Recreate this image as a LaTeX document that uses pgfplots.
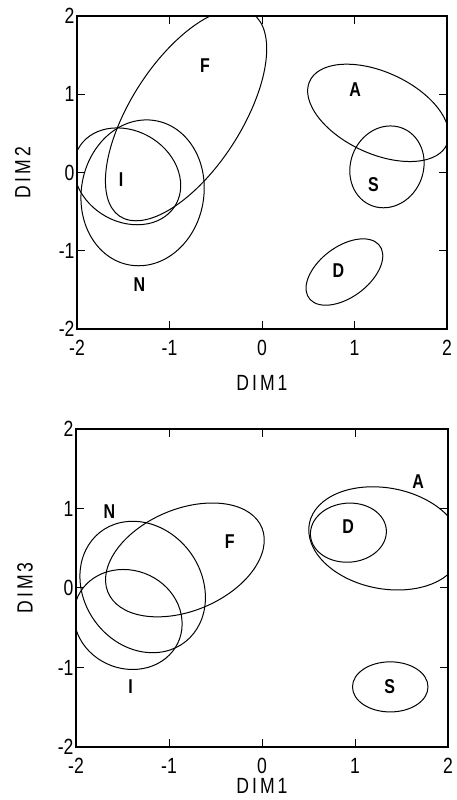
\documentclass[border=0pt]{standalone}
\usepackage{pgfplots}
\pgfplotsset{compat=1.18}
\usepackage{fontspec}
\setmainfont{Liberation Sans}[FakeStretch=0.8]
\begin{document}
\begin{tikzpicture}[x=1pt,y=1pt]
\path[use as bounding box] (0,0) rectangle (456,800);
\pgfplotsset{
  dimaxis/.style={
    scale only axis, xmin=-2, xmax=2, ymin=-2, ymax=2,
    xtick={-2,-1,0,1,2}, ytick={-2,-1,0,1,2},
    tick align=inside, major tick length=8pt,
    axis line style={line width=1.2pt},
    tick style={line width=1pt, black},
    ticklabel style={font=\fontsize{22}{24}\selectfont},
    /pgf/number format/assume math mode=true,
    xticklabel style={yshift=-8pt},
    yticklabel style={xshift=1pt},
    label style={font=\fontsize{22}{24}\selectfont},
    anchor=south west,
  },
  ell/.style={black, line width=1pt, smooth cycle, tension=1},
  lab/.style={draw=none, nodes near coords, point meta=explicit symbolic,
    every node near coord/.append style={anchor=center, font=\fontsize{20}{22}\selectfont\bfseries}},
}
% ---------------- top panel: DIM1 vs DIM2
\begin{axis}[dimaxis, at={(77pt,471pt)}, width=370pt, height=313pt,
  xlabel={D\kern3pt I\kern3pt M\kern3pt 1}, ylabel={D\kern3pt I\kern3pt M\kern3pt 2},
  xlabel style={at={(axis description cs:0.5,-0.171)}, anchor=center},
  ylabel style={at={(axis description cs:-0.147,0.5)}, anchor=center}]
% F
\addplot[ell] coordinates {(-0.139,0.736) (-0.280,2.089) (-1.503,0.736) (-1.362,-0.617)};
% I
\addplot[ell] coordinates {(-0.889,-0.049) (-1.565,0.570) (-2.025,-0.049) (-1.349,-0.668)};
% N
\addplot[ell] coordinates {(-0.626,-0.260) (-1.248,0.672) (-1.956,-0.260) (-1.334,-1.192)};
% A
\addplot[ell] coordinates {(1.939,0.762) (0.915,1.384) (0.575,0.762) (1.599,0.140)};
% S
\addplot[ell] coordinates {(1.751,0.072) (1.389,0.595) (0.951,0.072) (1.313,-0.451)};
% D
\addplot[ell] coordinates {(1.253,-1.272) (1.093,-0.848) (0.529,-1.272) (0.689,-1.696)};
\addplot[lab] table[meta=lab] {
x y lab
-0.615 1.37 F
1.008 1.055 A
-1.524 -0.094 I
1.206 -0.158 S
0.827 -1.252 D
-1.326 -1.434 N
};
\end{axis}
% ---------------- bottom panel: DIM1 vs DIM3
\begin{axis}[dimaxis, at={(76pt,53pt)}, width=372pt, height=318pt,
  xlabel={D\kern3pt I\kern3pt M\kern3pt 1}, ylabel={D\kern3pt I\kern3pt M\kern3pt 3},
  xlabel style={at={(axis description cs:0.5,-0.124)}, anchor=center},
  ylabel style={at={(axis description cs:-0.137,0.5)}, anchor=center}]
% N
\addplot[ell] coordinates {(-0.617,0.013) (-1.390,0.839) (-1.949,0.013) (-1.176,-0.814)};
% F
\addplot[ell] coordinates {(-0.029,0.353) (-0.534,1.069) (-1.629,0.353) (-1.124,-0.363)};
% I
\addplot[ell] coordinates {(-0.861,-0.396) (-1.491,0.233) (-2.021,-0.396) (-1.391,-1.025)};
% A
\addplot[ell] coordinates {(2.136,0.624) (1.191,1.273) (0.514,0.624) (1.459,-0.025)};
% D
\addplot[ell] coordinates {(1.337,0.696) (0.945,1.068) (0.521,0.696) (0.913,0.324)};
% S
\addplot[ell] coordinates {(1.785,-1.244) (1.379,-0.929) (0.973,-1.244) (1.379,-1.559)};
\addplot[lab] table[meta=lab] {
x y lab
-1.642 0.962 N
-0.346 0.584 F
-1.413 -1.235 I
1.678 1.340 A
0.926 0.773 D
1.373 -1.235 S
};
\end{axis}
\end{tikzpicture}
\end{document}
